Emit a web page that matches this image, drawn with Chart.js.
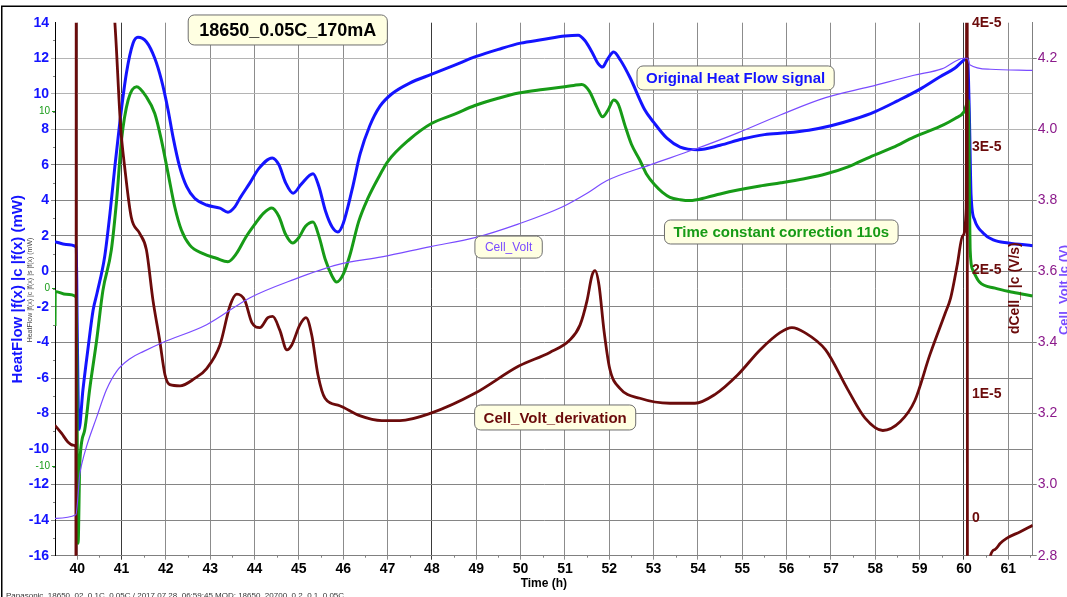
<!DOCTYPE html>
<html>
<head>
<meta charset="utf-8">
<script src="https://cdn.jsdelivr.net/npm/chart.js@4/dist/chart.umd.min.js"></script>
<style>
html, body { margin: 0; padding: 0; background: #fff; }
#grafico { display: block; }
</style>
</head>
<body>
<canvas id="grafico" width="1067" height="597"></canvas>
<script>
const FUENTE = '"Liberation Sans", Arial, sans-serif';
const AZUL = '#1414ff';
const VERDE = '#179b17';
const GRANATE = '#6b0b0b';
const VIOLETA = '#7a4cff';
const PURPURA = '#8b1a8b';

// Ticks de los ejes
const horasTicks = [40, 41, 42, 43, 44, 45, 46, 47, 48, 49, 50, 51, 52, 53, 54, 55, 56, 57, 58, 59, 60, 61];
const hfTicks = [-16, -14, -12, -10, -8, -6, -4, -2, 0, 2, 4, 6, 8, 10, 12, 14];
const voltTicks = [2.8, 3.0, 3.2, 3.4, 3.6, 3.8, 4.0, 4.2];
const dCellTicks = [0, 1, 2, 3, 4];       // en unidades de 1E-5 V/s
const verdeTicks = [-10, 0, 10];

// HEAT FLOW ORIGINAL (mW)
const hfTiempo = [39.5, 39.75, 39.98, 40.0, 40.04, 40.13, 40.25, 40.36, 40.45, 40.62, 40.74, 40.85, 40.96, 41.11, 41.26, 41.37, 41.56, 41.75, 41.9, 42.05, 42.16, 42.31, 42.47, 42.65, 42.92, 43.22, 43.4, 43.56, 43.67, 43.9, 44.1, 44.4, 44.55, 44.7, 44.87, 45.05, 45.32, 45.45, 45.6, 45.75, 45.88, 46.0, 46.2, 46.38, 46.6, 46.83, 47.1, 47.5, 48.0, 48.5, 49.0, 49.5, 50.0, 50.5, 51.0, 51.3, 51.45, 51.6, 51.75, 51.85, 51.95, 52.1, 52.25, 52.47, 52.8, 53.0, 53.3, 53.6, 54.0, 54.5, 55.0, 55.5, 56.0, 56.5, 57.0, 57.5, 58.0, 58.5, 59.0, 59.46, 59.8, 60.0, 60.08, 60.12, 60.16, 60.24, 60.43, 60.66, 61.0, 61.55];
const hfValores = [1.68, 1.52, 1.38, -3.0, -8.9, -6.67, -4.23, -2.17, -1.2, 0.83, 3.27, 5.9, 8.34, 11.15, 12.84, 13.18, 12.93, 12.0, 10.78, 9.09, 7.59, 5.9, 4.77, 4.12, 3.74, 3.56, 3.33, 3.65, 4.12, 5.0, 5.8, 6.39, 6.0, 5.0, 4.4, 4.9, 5.5, 4.8, 3.4, 2.5, 2.22, 2.7, 4.6, 6.6, 8.2, 9.3, 10.0, 10.6, 11.1, 11.6, 12.1, 12.5, 12.85, 13.05, 13.25, 13.3, 13.0, 12.4, 11.7, 11.5, 11.9, 12.35, 11.9, 10.9, 9.1, 8.4, 7.5, 7.0, 6.85, 7.1, 7.45, 7.7, 7.8, 7.95, 8.2, 8.55, 9.0, 9.6, 10.25, 10.96, 11.45, 11.9, 12.0, 9.0, 4.3, 2.9, 2.17, 1.77, 1.6, 1.45];

// CORRECCION CONSTANTE DE TIEMPO 110s (mW, eje verde)
const tcTiempo = [39.5, 39.505, 39.75, 39.98, 40.02, 40.06, 40.17, 40.28, 40.44, 40.58, 40.77, 40.89, 41.0, 41.15, 41.34, 41.56, 41.75, 41.9, 42.05, 42.2, 42.35, 42.54, 42.84, 43.14, 43.4, 43.59, 43.8, 44.0, 44.2, 44.39, 44.55, 44.7, 44.86, 45.0, 45.15, 45.32, 45.45, 45.6, 45.75, 45.85, 46.0, 46.15, 46.35, 46.55, 46.83, 47.0, 47.5, 48.0, 48.5, 48.97, 49.5, 49.96, 50.5, 50.95, 51.2, 51.38, 51.55, 51.72, 51.85, 51.97, 52.1, 52.2, 52.35, 52.5, 52.69, 52.85, 53.03, 53.2, 53.37, 53.6, 53.82, 54.2, 54.5, 54.9, 55.4, 55.87, 56.4, 56.88, 57.4, 57.88, 58.4, 58.87, 59.46, 59.8, 60.0, 60.1, 60.14, 60.2, 60.35, 60.7, 61.1, 61.55];
const tcValores = [-2.12, -0.18, -0.34, -0.49, -14.35, -9.82, -7.98, -5.72, -2.91, -0.13, 2.15, 4.97, 8.34, 10.6, 11.35, 10.78, 9.84, 8.34, 6.47, 4.59, 3.28, 2.43, 1.95, 1.69, 1.5, 1.95, 2.86, 3.58, 4.22, 4.52, 4.04, 3.04, 2.55, 2.86, 3.49, 3.73, 2.95, 1.59, 0.68, 0.35, 0.78, 1.86, 3.77, 5.03, 6.39, 7.12, 8.39, 9.29, 9.79, 10.29, 10.7, 10.99, 11.19, 11.33, 11.42, 11.47, 11.1, 10.2, 9.65, 10.02, 10.6, 10.38, 9.2, 8.11, 7.21, 6.39, 5.81, 5.4, 5.12, 4.99, 4.94, 5.12, 5.31, 5.53, 5.76, 5.94, 6.17, 6.43, 6.85, 7.39, 7.93, 8.51, 9.11, 9.56, 9.93, 10.56, 2.13, 1.03, 0.35, 0.01, -0.22, -0.43];

// TENSION DE CELDA (V)
const voltTiempo = [39.5, 39.97, 40.06, 40.1, 40.21, 40.44, 40.66, 40.89, 41.2, 41.5, 41.93, 42.92, 43.9, 44.88, 45.88, 46.87, 47.97, 48.97, 49.96, 50.95, 51.5, 51.94, 52.92, 53.91, 54.9, 55.87, 56.88, 57.88, 58.87, 59.5, 60.0, 60.08, 60.13, 60.6, 61.55];
const voltValores = [2.905, 2.915, 3.03, 3.056, 3.107, 3.19, 3.267, 3.319, 3.355, 3.375, 3.40, 3.45, 3.526, 3.577, 3.619, 3.641, 3.67, 3.695, 3.734, 3.782, 3.82, 3.855, 3.90, 3.943, 3.99, 4.041, 4.089, 4.12, 4.152, 4.17, 4.2, 4.2, 4.182, 4.169, 4.166];

// DERIVADA DE LA TENSION (1E-5 V/s)
const dvTiempo = [39.495, 39.65, 39.79, 39.91, 39.97, 39.975, 39.98, 40.84, 40.98, 41.07, 41.22, 41.41, 41.56, 41.71, 41.86, 41.98, 42.09, 42.32, 42.65, 42.92, 43.22, 43.45, 43.6, 43.78, 43.94, 44.12, 44.3, 44.41, 44.57, 44.73, 44.84, 45.02, 45.16, 45.29, 45.43, 45.59, 45.92, 46.37, 46.87, 47.28, 47.98, 48.97, 49.96, 50.66, 51.11, 51.34, 51.5, 51.61, 51.68, 51.77, 51.88, 52.01, 52.24, 52.69, 53.37, 53.93, 54.38, 54.9, 55.4, 55.85, 56.12, 56.41, 56.88, 57.38, 57.77, 58.17, 58.56, 58.89, 59.23, 59.57, 59.7, 59.85, 59.97, 60.05, 60.07, 60.08, 60.55, 60.59, 60.7, 60.82, 60.96, 61.26, 61.55];
const dvValores = [0.753, 0.686, 0.618, 0.592, 0.578, -1.5, 6.0, 4.05, 3.16, 2.84, 2.43, 2.3, 2.17, 1.76, 1.44, 1.16, 1.08, 1.07, 1.13, 1.21, 1.4, 1.72, 1.81, 1.76, 1.58, 1.54, 1.62, 1.63, 1.52, 1.36, 1.4, 1.56, 1.62, 1.48, 1.16, 0.97, 0.91, 0.83, 0.79, 0.79, 0.85, 1.01, 1.23, 1.34, 1.44, 1.56, 1.76, 1.96, 2.0, 1.88, 1.52, 1.21, 1.05, 0.97, 0.93, 0.93, 1.0, 1.16, 1.36, 1.5, 1.54, 1.5, 1.36, 1.04, 0.81, 0.71, 0.78, 0.95, 1.32, 1.65, 1.78, 2.05, 2.28, 2.5, 6.0, -1.5, -0.7, -0.31, -0.25, -0.2, -0.16, -0.108, -0.054];

// Armar puntos {x, y}
const puntos = (tiempos, valores) => tiempos.map((t, i) => ({ x: t, y: valores[i] }));

const lineasOscuras = [41, 48, 60];
const lineasClaras = [8, 10, 12];

// Rectangulo redondeado con texto
function cajaTexto(ctx, texto, cx, cy, fuente, color, alto, margen) {
    ctx.font = fuente;
    const w = ctx.measureText(texto).width + margen * 2;
    const x0 = cx - w / 2, y0 = cy - alto / 2, r = 6;
    ctx.beginPath();
    ctx.moveTo(x0 + r, y0);
    ctx.arcTo(x0 + w, y0, x0 + w, y0 + alto, r);
    ctx.arcTo(x0 + w, y0 + alto, x0, y0 + alto, r);
    ctx.arcTo(x0, y0 + alto, x0, y0, r);
    ctx.arcTo(x0, y0, x0 + w, y0, r);
    ctx.closePath();
    ctx.fillStyle = '#ffffe2';
    ctx.fill();
    ctx.strokeStyle = '#6e6e6e';
    ctx.lineWidth = 1;
    ctx.stroke();
    ctx.fillStyle = color;
    ctx.textAlign = 'center';
    ctx.textBaseline = 'middle';
    ctx.fillText(texto, cx, cy + 1);
}

function textoVertical(ctx, texto, x, y, fuente, color) {
    ctx.save();
    ctx.translate(x, y);
    ctx.rotate(-Math.PI / 2);
    ctx.font = fuente;
    ctx.fillStyle = color;
    ctx.textAlign = 'center';
    ctx.textBaseline = 'middle';
    ctx.fillText(texto, 0, 0);
    ctx.restore();
}

// Etiquetas de ejes secundarios, anotaciones y marco
const extras = {
    id: 'extras',
    afterDatasetsDraw(chart) {
        const { ctx, scales, chartArea } = chart;
        const { x, y, yD, yG } = scales;
        ctx.save();

        // marcas menores en x (medias horas) y en el eje izquierdo (impares)
        ctx.strokeStyle = '#808080';
        ctx.lineWidth = 1;
        ctx.beginPath();
        horasTicks.forEach(h => {
            const px = Math.round(x.getPixelForValue(h + 0.5)) + 0.5;
            if (px < chartArea.right) {
                ctx.moveTo(px, chartArea.bottom);
                ctx.lineTo(px, chartArea.bottom + 2);
            }
        });
        hfTicks.forEach(v => {
            if (v < 14) {
                const py = Math.round(y.getPixelForValue(v + 1)) + 0.5;
                ctx.moveTo(chartArea.left - 2, py);
                ctx.lineTo(chartArea.left, py);
            }
        });
        ctx.stroke();

        // eje dCell dentro del grafico
        ctx.font = 'bold 14px ' + FUENTE;
        ctx.fillStyle = GRANATE;
        ctx.textAlign = 'left';
        ctx.textBaseline = 'middle';
        const xD = x.getPixelForValue(60) + 8;
        dCellTicks.forEach(v => {
            ctx.fillText(v === 0 ? '0' : v + 'E-5', xD, yD.getPixelForValue(v));
        });

        // eje verde pequeño a la izquierda
        ctx.font = '10px ' + FUENTE;
        ctx.fillStyle = VERDE;
        ctx.textAlign = 'right';
        ctx.strokeStyle = VERDE;
        verdeTicks.forEach(v => {
            const py = Math.round(yG.getPixelForValue(v)) + 0.5;
            ctx.fillText(String(v), 50, py);
            ctx.beginPath();
            ctx.moveTo(52, py);
            ctx.lineTo(55, py);
            ctx.stroke();
        });

        // titulos secundarios
        textoVertical(ctx, 'HeatFlow |f(x) |c |f(x) |s |f(x) (mW)', 30, 290, '7px ' + FUENTE, '#444');
        textoVertical(ctx, 'dCell_ |c (V/s)', x.getPixelForValue(61.15), y.getPixelForValue(-0.94), 'bold 14px ' + FUENTE, GRANATE);
        textoVertical(ctx, 'Cell_Volt |c (V)', 1064, 290, 'bold 13px ' + FUENTE, VIOLETA);

        // anotaciones
        cajaTexto(ctx, '18650_0.05C_170mA', x.getPixelForValue(44.75), y.getPixelForValue(13.59), 'bold 18px ' + FUENTE, '#000', 30, 11);
        cajaTexto(ctx, 'Original Heat Flow signal', x.getPixelForValue(54.85), y.getPixelForValue(10.89), 'bold 15px ' + FUENTE, AZUL, 24, 9);
        cajaTexto(ctx, 'Time constant correction 110s', x.getPixelForValue(55.88), y.getPixelForValue(2.22), 'bold 15px ' + FUENTE, VERDE, 24, 9);
        cajaTexto(ctx, 'Cell_Volt', x.getPixelForValue(49.73), y.getPixelForValue(1.37), '12px ' + FUENTE, VIOLETA, 22, 10);
        cajaTexto(ctx, 'Cell_Volt_derivation', x.getPixelForValue(50.78), y.getPixelForValue(-8.22), 'bold 15px ' + FUENTE, GRANATE, 25, 9);

        // pie y marco
        ctx.font = '8px ' + FUENTE;
        ctx.fillStyle = '#333';
        ctx.textAlign = 'left';
        ctx.textBaseline = 'top';
        ctx.fillText('Panasonic_18650_02_0.1C_0.05C / 2017.07.28. 06:59:45 MOD: 18650_20700_0.2_0.1_0.05C', 6, 592);
        ctx.strokeStyle = '#000';
        ctx.lineWidth = 1.5;
        ctx.strokeRect(1.75, 6.25, 1080, 620);
        ctx.restore();
    }
};

Chart.defaults.font.family = FUENTE;

const grafico = new Chart(document.getElementById('grafico').getContext('2d'), {
    type: 'line',
    data: {
        datasets: [
            {
                label: 'Cell_Volt',
                data: puntos(voltTiempo, voltValores),
                yAxisID: 'yV',
                borderColor: VIOLETA,
                borderWidth: 1.2,
                pointRadius: 0,
                cubicInterpolationMode: 'monotone'
            },
            {
                label: 'Cell_Volt_derivation',
                data: puntos(dvTiempo, dvValores),
                yAxisID: 'yD',
                borderColor: GRANATE,
                borderWidth: 2.8,
                pointRadius: 0,
                cubicInterpolationMode: 'monotone'
            },
            {
                label: 'Time constant correction 110s',
                data: puntos(tcTiempo, tcValores),
                yAxisID: 'yG',
                borderColor: VERDE,
                borderWidth: 3,
                pointRadius: 0,
                cubicInterpolationMode: 'monotone'
            },
            {
                label: 'Original Heat Flow signal',
                data: puntos(hfTiempo, hfValores),
                yAxisID: 'y',
                borderColor: AZUL,
                borderWidth: 3,
                pointRadius: 0,
                cubicInterpolationMode: 'monotone'
            }
        ]
    },
    options: {
        responsive: false,
        animation: false,
        devicePixelRatio: 1,
        layout: { padding: { top: 22.7, left: 0, right: 0, bottom: 0 } },
        plugins: {
            legend: { display: false },
            tooltip: { enabled: false }
        },
        scales: {
            x: {
                type: 'linear',
                min: 39.5,
                max: 61.55,
                afterBuildTicks: s => { s.ticks = horasTicks.map(v => ({ value: v })); },
                afterFit: s => { s.height = 41.3; },
                grid: {
                    color: c => lineasOscuras.includes(c.tick && c.tick.value) ? '#3a3a3a' : '#8c8c8c',
                    tickLength: 4
                },
                border: { color: '#808080' },
                ticks: {
                    color: '#000',
                    autoSkip: false,
                    maxRotation: 0,
                    padding: 1,
                    font: { weight: 'bold', size: 14 }
                },
                title: {
                    display: true,
                    text: 'Time (h)',
                    color: '#000',
                    font: { weight: 'bold', size: 12 },
                    padding: { top: 0, bottom: 6 }
                }
            },
            y: {
                position: 'left',
                min: -16,
                max: 14,
                afterBuildTicks: s => { s.ticks = hfTicks.map(v => ({ value: v })); },
                afterFit: s => { s.width = 55; },
                grid: {
                    color: c => {
                        const v = c.tick && c.tick.value;
                        if (v === 14) return 'rgba(0,0,0,0)';
                        return lineasClaras.includes(v) ? '#b4b4b4' : '#858585';
                    },
                    tickLength: 4
                },
                border: { color: '#000' },
                ticks: {
                    color: AZUL,
                    padding: 2,
                    font: { weight: 'bold', size: 14 }
                },
                title: {
                    display: true,
                    text: 'HeatFlow |f(x) |c |f(x) (mW)',
                    color: AZUL,
                    font: { weight: 'bold', size: 15 },
                    padding: { top: 9, bottom: 0 }
                }
            },
            yV: {
                position: 'right',
                min: 2.8,
                max: 4.3,
                afterBuildTicks: s => { s.ticks = voltTicks.map(v => ({ value: v })); },
                afterFit: s => { s.width = 34.3; },
                grid: { drawOnChartArea: false, tickLength: 4, color: '#808080' },
                border: { color: '#808080' },
                ticks: {
                    color: PURPURA,
                    padding: 1,
                    font: { size: 14 },
                    callback: v => Number(v).toFixed(1)
                }
            },
            yD: {
                display: false,
                min: -0.3,
                max: 4.0
            },
            yG: {
                display: false,
                min: -15.05,
                max: 14.95
            }
        }
    },
    plugins: [extras]
});
</script>
</body>
</html>
